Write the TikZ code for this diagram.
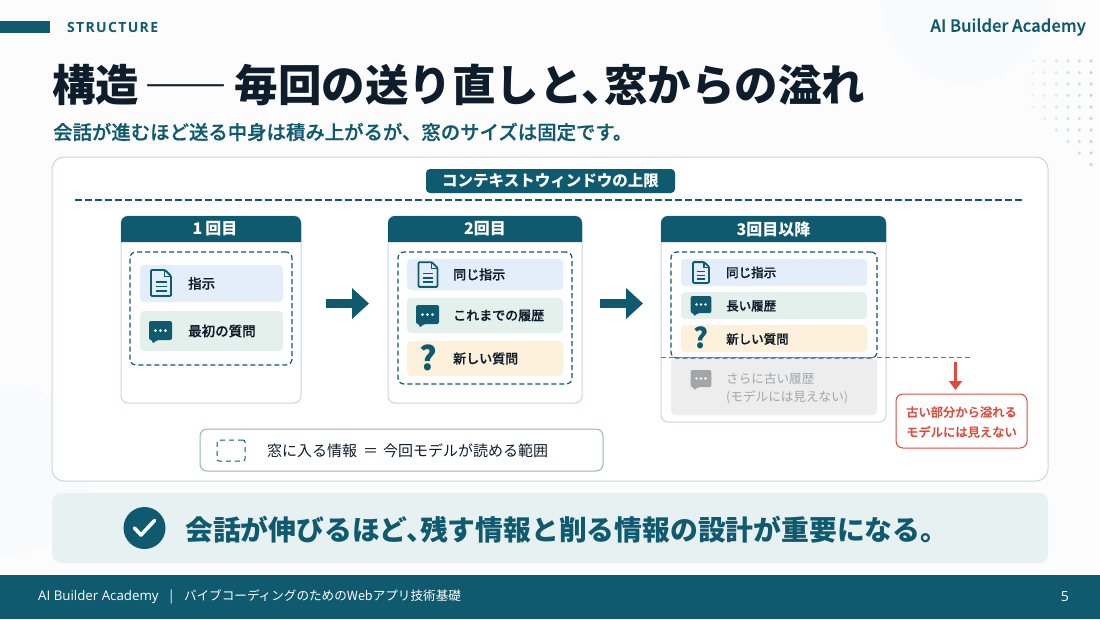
\documentclass[tikz,border=0pt]{standalone}
\usepackage{fontspec}
\setmainfont{Noto Sans CJK JP}
\newfontfamily\latinfont{Open Sans}
\newfontfamily\jpmedium[FakeBold=0.6]{Noto Sans CJK JP Medium}
\usetikzlibrary{arrows.meta}
\definecolor{deepteal}{HTML}{0F5A6E}
\definecolor{inkblack}{HTML}{0E1D2B}
\definecolor{paleline}{HTML}{C5D8DF}
\definecolor{rowblue}{HTML}{E3EEFA}
\definecolor{rowgreen}{HTML}{E4F0EC}
\definecolor{rowyellow}{HTML}{FDF1DC}
\definecolor{rowgray}{HTML}{EDEDED}
\definecolor{grayicon}{HTML}{A3A6A8}
\definecolor{graytext}{HTML}{A2A5A8}
\definecolor{alertred}{HTML}{E04A3C}
\definecolor{bannerbg}{HTML}{E8F1F2}
\definecolor{pagebg}{HTML}{FCFCFC}
\tikzset{
  txt/.style={inner sep=0pt, anchor=west, text=inkblack, font=\fontsize{#1}{#1}\bfseries\selectfont},
  medtxt/.style={inner sep=0pt, anchor=west, text=inkblack, font=\fontsize{#1}{#1}\jpmedium},
  thintxt/.style={inner sep=0pt, anchor=west, text=inkblack, font=\fontsize{#1}{#1}\selectfont},
  cardbox/.style={draw=paleline, fill=white, line width=1pt, rounded corners=7pt, inner sep=0pt},
  windowbox/.style={draw=deepteal, dash pattern=on 5pt off 3pt, line width=1.2pt, rounded corners=6pt, inner sep=0pt},
  rowbox/.style={rounded corners=4pt, inner sep=0pt},
  cardhead/.style={inner sep=0pt, text=white, font=\fontsize{16}{16}\bfseries\selectfont},
  flowarrow/.style={-{Triangle[length=17pt,width=30pt]}, line width=9pt, draw=deepteal},
  redarrow/.style={-{Triangle[length=9pt,width=13pt]}, line width=2.4pt, draw=alertred},
  cutline/.style={draw=alertred, line width=1.5pt, dash pattern=on 5pt off 3pt},
  limitline/.style={draw=deepteal, line width=2pt, dash pattern=on 6.5pt off 3.5pt},
  docicon/.pic={
    \draw[deepteal, line width=1.8pt, line join=round, rounded corners=1pt] (-10,-13) -- (4,-13) -- (10,-7) -- (10,13) -- (-10,13) -- cycle;
    \draw[deepteal, line width=1.4pt] (3.5,-13) -- (3.5,-6.5) -- (10,-6.5);
    \foreach \ly in {-1,3.5,8} {
      \draw[deepteal, line width=1.5pt] (-5.5,\ly) -- (5.5,\ly);
    }
  },
  chaticon/.pic={
    \fill[#1, rounded corners=2pt] (-11.5,-10) -- (11.5,-10) -- (11.5,9) -- (-4,9) -- (-8,13) -- (-8,9) -- (-11.5,9) -- cycle;
    \foreach \dx in {-5,0,5} {
      \fill[white] (\dx,-0.5) circle (1.5);
    }
  }
}

\begin{document}
\begin{tikzpicture}[x=1pt, y=-1pt]
  \useasboundingbox (0,0) rectangle (1100,619);
  \fill[pagebg] (0,0) rectangle (1100,619);
  \fill[deepteal!3] (965,-2) circle (85);
  \fill[deepteal!3] (8,470) circle (85);

  % dots, top right
  \foreach \r in {0,...,9} {
    \foreach \c in {0,...,5} {
      \pgfmathtruncatemacro{\keep}{\c+4-\r}
      \pgfmathtruncatemacro{\dotshade}{8+3*\c}
      \ifnum\keep>-1
        \fill[deepteal!\dotshade] (1033+11.6*\c,61+11.5*\r) circle (1.8);
      \fi
    }
  }

  % header
  \fill[deepteal] (0,21) rectangle (50,33);
  \node[txt=14, text=deepteal, anchor=west] (kicker) at (67,27) {\latinfont\addfontfeatures{LetterSpace=9.5}STRUCTURE};
  \node[medtxt=16.8, text=deepteal, anchor=east] (brand) at (1086,27) {AI Builder Academy};
  \node[txt=43.5] (title) at (52,85) {構造\kern5pt{\fontsize{41.5}{41.5}\selectfont ――}\kern7.5pt 毎回の送り直しと、\kern-20pt 窓からの溢れ};
  \node[medtxt=19.4, text=deepteal] (subtitle) at (53,132) {会話が進むほど送る中身は積み上がるが、窓のサイズは固定です。};

  % main panel
  \node[cardbox, rounded corners=12pt, minimum width=996, minimum height=324] (panel) at (550,319) {};
  \node[rowbox, fill=deepteal, text=white, minimum width=249, minimum height=24, font=\fontsize{15.5}{15.5}\bfseries\selectfont] (limit) at (550.5,181) {コンテキストウィンドウの上限};
  \coordinate (limitl) at (75,200);
  \coordinate (limitr) at (1025,200);
  \draw[limitline] (limitl) -- (limitr);

  % card 1
  \node[cardbox, minimum width=180, minimum height=187] (card1) at (211,309.5) {};
  \fill[deepteal] (121,242) [rounded corners=7pt] -- (121,216) -- (301,216) [sharp corners] -- (301,242) -- cycle;
  \node[cardhead] (head1) at (215,229) {1\kern3pt 回目};
  \node[rowbox, fill=rowblue, minimum width=143, minimum height=37] (row11) at (211.5,283.5) {};
  \node[rowbox, fill=rowgreen, minimum width=143, minimum height=40] (row12) at (211.5,331) {};
  \node[windowbox, minimum width=162, minimum height=113] (win1) at (211,308.5) {};
  \pic at (161,283) {docicon};
  \pic at (160.5,331) {chaticon=deepteal};
  \node[medtxt=13.5] (t11) at (188,283.5) {指示};
  \node[medtxt=13.5] (t12) at (188,331) {最初の質問};

  % card 2
  \node[cardbox, minimum width=194, minimum height=187] (card2) at (485,309.5) {};
  \fill[deepteal] (388,242) [rounded corners=7pt] -- (388,216) -- (582,216) [sharp corners] -- (582,242) -- cycle;
  \node[cardhead] (head2) at (485,229) {2回目};
  \node[rowbox, fill=rowblue, minimum width=156, minimum height=31] (row21) at (485,274.5) {};
  \node[rowbox, fill=rowgreen, minimum width=156, minimum height=35] (row22) at (485,315.5) {};
  \node[rowbox, fill=rowyellow, minimum width=156, minimum height=35] (row23) at (485,358.5) {};
  \node[windowbox, minimum width=174, minimum height=132] (win2) at (485,318) {};
  \pic[scale=0.95] at (428,274.5) {docicon};
  \pic at (427.5,315) {chaticon=deepteal};
  \node[txt=33, text=deepteal, anchor=center] (q2) at (428,358) {?};
  \node[medtxt=13] (t21) at (453,274.5) {同じ指示};
  \node[medtxt=13] (t22) at (453,315.5) {これまでの履歴};
  \node[medtxt=13] (t23) at (453,358.5) {新しい質問};

  % card 3
  \node[cardbox, minimum width=225, minimum height=206] (card3) at (773.5,319) {};
  \fill[deepteal] (661,242) [rounded corners=7pt] -- (661,216) -- (886,216) [sharp corners] -- (886,242) -- cycle;
  \node[cardhead] (head3) at (773.5,229) {3回目以降};
  \node[rowbox, fill=rowgray, minimum width=206, minimum height=57] (row34) at (774,386.5) {};
  \node[rowbox, fill=rowblue, minimum width=186, minimum height=27] (row31) at (774,272.5) {};
  \node[rowbox, fill=rowgreen, minimum width=186, minimum height=27] (row32) at (774,305.5) {};
  \node[rowbox, fill=rowyellow, minimum width=186, minimum height=27] (row33) at (774,338.5) {};
  \node[windowbox, minimum width=206, minimum height=106] (win3) at (774,305) {};
  \pic[scale=0.8] at (701,272.5) {docicon};
  \pic[scale=0.9] at (701,305) {chaticon=deepteal};
  \node[txt=28, text=deepteal, anchor=center] (q3) at (701,338) {?};
  \pic[scale=0.9] at (701,379) {chaticon=grayicon};
  \node[medtxt=12.5] (t31) at (726,272.5) {同じ指示};
  \node[medtxt=12.5] (t32) at (726,306) {長い履歴};
  \node[medtxt=12.5] (t33) at (726,339) {新しい質問};
  \node[thintxt=12.6, text=graytext] (t34) at (726,378.5) {さらに古い履歴};
  \node[thintxt=12.6, text=graytext] (t35) at (726,397) {(モデルには見えない)};

  % arrows between the cards
  \coordinate (go1a) at (326,303.5);
  \coordinate (go1b) at (369,303.5);
  \coordinate (go2a) at (600,303.5);
  \coordinate (go2b) at (643,303.5);
  \draw[flowarrow] (go1a) -- (go1b);
  \draw[flowarrow] (go2a) -- (go2b);

  % overflow
  \node[cardbox, draw=alertred, minimum width=131, minimum height=54] (redbox) at (961.5,421) {};
  \node[inner sep=0pt, align=center, text=alertred, font=\fontsize{12.3}{20}\jpmedium] (redtxt) at (961.5,422) {古い部分から溢れる\\モデルには見えない};
  \coordinate (redtop) at (955.5,362);
  \coordinate (redend) at (955.5,390);
  \draw[redarrow] (redtop) -- (redend);
  \coordinate (cutl) at (661,357.5);
  \coordinate (cutr) at (972,357.5);
  \draw[cutline] (cutl) -- (cutr);

  % legend
  \node[cardbox, draw=deepteal!45, minimum width=403, minimum height=42] (legend) at (401.5,450) {};
  \node[windowbox, line width=1pt, rounded corners=2pt, dash pattern=on 5pt off 4pt, minimum width=28, minimum height=21] (legendicon) at (231,450.5) {};
  \node[thintxt=15] (legendtxt) at (267,451) {窓に入る情報\kern6pt ＝\kern5pt 今回モデルが読める範囲};

  % banner
  \node[rowbox, rounded corners=9pt, fill=bannerbg, minimum width=996, minimum height=70] (banner) at (550,528) {};
  \node[circle, fill=deepteal, minimum size=42, inner sep=0pt] (okmark) at (144.5,528) {};
  \draw[white, line width=3.6pt, line cap=round, line join=round] (134.5,528) -- (141,535) -- (154.5,520.5);
  \node[txt=27.8, text=deepteal] (bannertxt) at (185,530) {会話が伸びるほど、\kern-14pt 残す情報と削る情報の設計が重要になる。};

  % footer
  \fill[deepteal] (0,575) rectangle (1100,619);
  \node[thintxt=12.6, text=white] (foot) at (38,597) {{\latinfont\fontsize{13.3}{13}\selectfont AI Builder Academy}\hspace{11pt}|\hspace{11pt}バイブコーディングのためのWebアプリ技術基礎};
  \node[thintxt=14, text=white, anchor=east] (pageno) at (1069,597) {\latinfont 5};
\end{tikzpicture}
\end{document}
